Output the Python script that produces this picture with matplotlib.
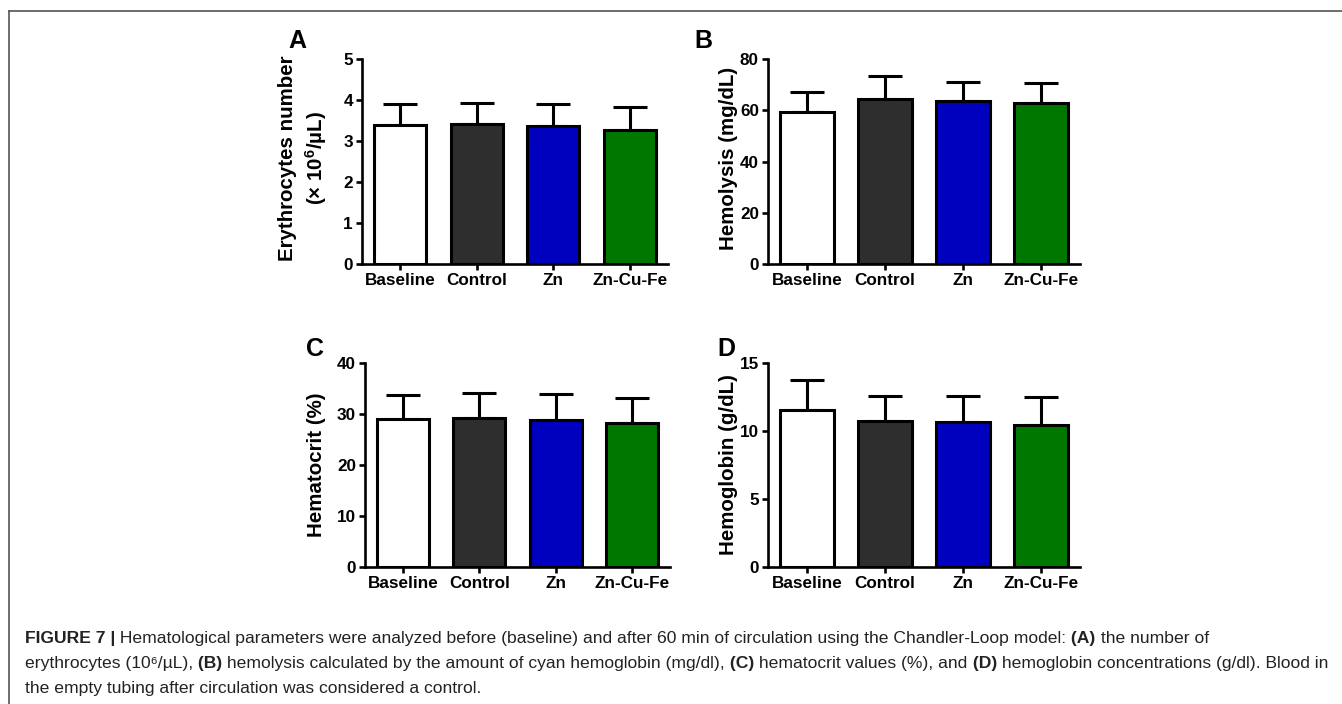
import matplotlib
matplotlib.use("Agg")
import matplotlib.pyplot as plt
from matplotlib.lines import Line2D

plt.rcParams["font.family"] = ["Liberation Sans", "DejaVu Sans"]
plt.rcParams["font.weight"] = "bold"
plt.rcParams["mathtext.fontset"] = "custom"
plt.rcParams["mathtext.rm"] = "Liberation Sans"
plt.rcParams["mathtext.bf"] = "Liberation Sans:bold"
plt.rcParams["mathtext.it"] = "Liberation Sans:italic"

# -------------------------------------------------------------------
# DATOS
# -------------------------------------------------------------------
grupos = ["Baseline", "Control", "Zn", "Zn-Cu-Fe"]
colores = ["#ffffff", "#2e2e2e", "#0000bf", "#007800"]

eritrocitos = [3.40, 3.41, 3.36, 3.28]
eritrocitos_sd = [0.50, 0.51, 0.55, 0.55]

hemolisis = [59.5, 64.5, 63.6, 62.8]
hemolisis_sd = [7.6, 8.9, 7.4, 7.8]

hematocrito = [29.1, 29.3, 28.9, 28.3]
hematocrito_sd = [4.6, 4.8, 5.0, 4.9]

hemoglobina = [11.55, 10.75, 10.65, 10.45]
hemoglobina_sd = [2.2, 1.85, 1.95, 2.05]

W, H = 1342, 704


def px(x, y):
    """Convierte pixeles (origen arriba-izquierda) a fraccion de figura."""
    return x / W, 1 - y / H


def panel(fig, left, top, right, bottom, valores, sd, ymax, paso):
    x0, y1 = px(left, top)
    x1, y0 = px(right, bottom)
    ax = fig.add_axes([x0, y0, x1 - x0, y1 - y0])
    pos = range(len(grupos))
    ax.bar(pos, valores, width=0.68, color=colores, edgecolor="black",
           linewidth=2.2, zorder=2)
    ax.errorbar(pos, valores, yerr=[[0] * len(sd), sd], fmt="none",
                ecolor="black", elinewidth=2.2, capsize=12, capthick=2.2,
                zorder=1)
    ax.set_xlim(-0.5, 3.5)
    ax.set_ylim(0, ymax)
    ax.set_yticks(range(0, ymax + 1, paso))
    ax.set_xticks(list(pos))
    ax.set_xticklabels(grupos)
    for s in ["top", "right"]:
        ax.spines[s].set_visible(False)
    for s in ["left", "bottom"]:
        ax.spines[s].set_linewidth(1.9)
    ax.tick_params(direction="out", length=4.5, width=1.9, labelsize=12.3, pad=2)
    return ax


fig = plt.figure(figsize=(W / 100, H / 100), dpi=100)

panel(fig, 362, 59, 668, 264, eritrocitos, eritrocitos_sd, 5, 1)
panel(fig, 768, 59, 1080, 264, hemolisis, hemolisis_sd, 80, 20)
panel(fig, 365, 363, 670, 567, hematocrito, hematocrito_sd, 40, 10)
panel(fig, 768, 363, 1080, 567, hemoglobina, hemoglobina_sd, 15, 5)

# Etiquetas de eje
etiquetas = [
    (303.5, 158, "Erythrocytes number\n(× 10$^{\\mathbf{6}}$/µL)"),
    (728, 158, "Hemolysis (mg/dL)"),
    (317, 465, "Hematocrit (%)"),
    (729, 465, "Hemoglobin (g/dL)"),
]
for x, y, t in etiquetas:
    fig.text(*px(x, y), t, rotation=90, ha="center", va="center",
             fontsize=14.8, linespacing=1.3)

# Letras de panel
for x, y, t in [(288, 29, "A"), (694, 29, "B"), (306, 337, "C"), (717, 337, "D")]:
    fig.text(*px(x, y), t, ha="left", va="top", fontsize=18)

# Marco
fig.add_artist(Line2D([9 / W, 1], [1 - 11 / H] * 2, color="#555555", lw=1.2))
fig.add_artist(Line2D([9 / W] * 2, [0, 1 - 11 / H], color="#555555", lw=1.2))

# Pie de figura (fragmentos encadenados para mezclar negrita y normal)
lineas = [
    [("FIGURE 7 |", "bold"),
     (" Hematological parameters were analyzed before (baseline) and after 60 min "
      "of circulation using the Chandler-Loop model:", "normal"),
     (" (A)", "bold"), (" the number of", "normal")],
    [("erythrocytes (10⁶/µL),", "normal"), (" (B)", "bold"),
     (" hemolysis calculated by the amount of cyan hemoglobin (mg/dl),", "normal"),
     (" (C)", "bold"), (" hematocrit values (%), and", "normal"), (" (D)", "bold"),
     (" hemoglobin concentrations (g/dl). Blood in", "normal")],
    [("the empty tubing after circulation was considered a control.", "normal")],
]
ax_pie = fig.add_axes([0, 0, 1, 1])
ax_pie.axis("off")
for i, partes in enumerate(lineas):
    prev = None
    for texto, peso in partes:
        if prev is None:
            prev = ax_pie.text(*px(25, 643 + 25 * i), texto, fontsize=12.6,
                               fontweight=peso, color="#222222", va="baseline",
                               transform=fig.transFigure)
        else:
            prev = ax_pie.annotate(texto, xy=(1, 0), xycoords=prev,
                                   fontsize=12.6, fontweight=peso,
                                   color="#222222", va="bottom", ha="left")

plt.savefig("out.png", dpi=100)
